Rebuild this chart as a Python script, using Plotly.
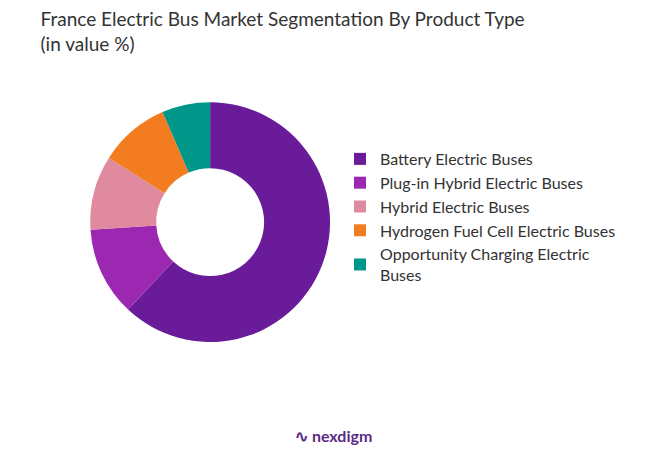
import plotly.graph_objects as go

segments = ["Battery Electric Buses", "Plug-in Hybrid Electric Buses", "Hybrid Electric Buses",
            "Hydrogen Fuel Cell Electric Buses", "Opportunity Charging Electric<br>Buses"]
shares = [62, 12, 10, 9.5, 6.5]
colors = ["#6a1b9a", "#9c27b0", "#e08aa0", "#f47c20", "#00968a"]

fig = go.Figure(go.Pie(
    labels=segments, values=shares, hole=0.45, sort=False, direction="clockwise",
    rotation=0, marker=dict(colors=colors), textinfo="none", hoverinfo="label+percent",
    domain=dict(x=[0.126, 0.495], y=[0.277, 0.796]),
))
fig.update_layout(
    width=651, height=462, margin=dict(l=0, r=0, t=0, b=0),
    paper_bgcolor="white", plot_bgcolor="white",
    font=dict(family="Lato, Noto Sans, sans-serif", size=16, color="#333"),
    title=dict(text="France Electric Bus Market Segmentation By Product Type<br>(in value %)",
               x=0.05, xanchor="left", y=0.96, yanchor="top",
               font=dict(size=19, color="#333")),
    legend=dict(x=0.51, y=0.71, xanchor="left", yanchor="top",
                itemsizing="constant", font=dict(size=16, color="#333"),
                traceorder="normal"),
    annotations=[dict(text="<b>∿ nexdigm</b>", x=0.5, y=0.05, xref="paper", yref="paper",
                      showarrow=False, font=dict(size=16, color="#5b2a86"))],
)
fig.write_html("out.html")
